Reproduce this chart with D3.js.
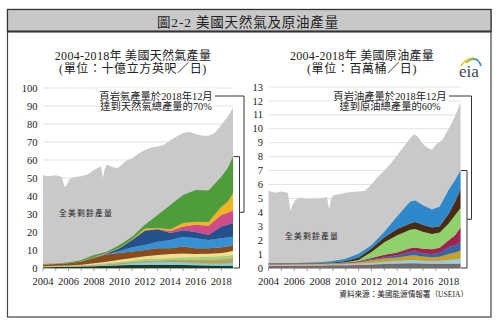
<!DOCTYPE html>
<html lang="zh-Hant">
<head>
<meta charset="utf-8">
<script src="https://d3js.org/d3.v7.min.js"></script>
<style>
  body { margin: 0; background: #fff; }
  text { font-family: 'Liberation Serif', 'Noto Sans CJK TC', serif; fill: #222; }
</style>
</head>
<body>
<svg width="500" height="326"></svg>
<script>
// ---- data ----
var xTicks = [2004, 2006, 2008, 2010, 2012, 2014, 2016, 2018];

// natural gas, Bcf/d
var gasTotalX = [2004, 2004.5, 2005, 2005.5, 2005.67, 2005.85, 2006.1, 2006.5, 2007, 2007.5, 2008, 2008.55, 2008.7, 2008.85, 2009, 2009.5, 2009.9, 2010.5, 2011, 2011.5, 2012, 2012.5, 2013, 2013.5, 2014, 2014.5, 2015, 2015.5, 2016, 2016.5, 2017, 2017.5, 2018, 2018.5, 2018.92];
var gasTotal  = [51.5, 51, 51.5, 50.5, 45, 46, 49.5, 50.5, 51, 52, 54.5, 56.5, 50, 55, 57.5, 56, 55.5, 59.5, 61, 63.5, 65.5, 67, 67.5, 68.5, 71, 73, 75, 75.5, 74.5, 73.5, 73.5, 75, 79.5, 84, 89];
var gasYears  = [2004, 2005, 2006, 2007, 2008, 2009, 2010, 2011, 2012, 2013, 2014, 2015, 2016, 2017, 2018, 2018.5, 2018.92];
// cumulative top of each shale play, bottom band first
var gasTops = [
  [0.4, 0.5, 0.6, 0.8, 1.0, 1.2, 1.5, 1.7, 1.8, 1.8, 1.8, 1.7, 1.5, 1.4, 1.3, 1.3, 1.3],
  [0.6, 0.7, 0.8, 1.0, 1.3, 1.6, 2.0, 2.6, 3.0, 3.2, 3.3, 3.0, 2.6, 2.4, 2.4, 2.5, 2.6],
  [0.8, 0.9, 1.0, 1.3, 1.7, 2.1, 2.6, 3.3, 3.9, 4.2, 4.4, 4.4, 4.4, 4.5, 4.8, 5.2, 5.7],
  [0.9, 1.0, 1.2, 1.5, 2.0, 2.6, 3.3, 4.2, 5.0, 5.2, 5.4, 5.8, 6.0, 6.2, 6.5, 6.8, 7.2],
  [1.0, 1.2, 1.4, 1.8, 2.6, 3.5, 4.6, 5.6, 6.5, 7.2, 7.8, 8.0, 7.8, 7.9, 8.3, 8.9, 9.6],
  [2.0, 2.2, 2.6, 3.6, 5.5, 7.5, 8.3, 9.2, 10.0, 11.0, 11.0, 11.9, 11.0, 11.0, 11.5, 12.0, 12.8],
  [2.0, 2.2, 2.6, 3.6, 5.6, 7.8, 9.5, 11.5, 12.8, 14.6, 15.6, 17.4, 16.5, 15.6, 16.5, 17.0, 17.4],
  [2.0, 2.2, 2.6, 3.6, 5.7, 8.2, 11.0, 15.6, 20.7, 21.5, 19.4, 21.0, 20.0, 18.3, 23.0, 24.0, 25.0],
  [2.0, 2.2, 2.6, 3.6, 5.7, 8.2, 11.0, 15.7, 21.0, 21.6, 20.5, 23.0, 24.0, 23.5, 29.4, 30.7, 32.0],
  [2.1, 2.3, 2.7, 3.8, 6.0, 8.5, 11.3, 16.0, 22.0, 22.2, 21.5, 25.0, 25.7, 25.5, 34.0, 36.8, 41.5],
  [2.2, 2.5, 3.0, 4.5, 7.2, 9.0, 12.8, 17.4, 24.0, 29.4, 35.0, 40.5, 43.3, 43.0, 50.7, 55.4, 61.9]
];
var gasColors = ["#1e3a1e", "#7dd0ea", "#b5a25e", "#a8d07c", "#eee08c", "#8c4b1d", "#3591d4", "#24518b", "#cf4c88", "#f2b320", "#4f9d3a"];

// crude oil, million b/d
var oilTotalX = [2004, 2004.5, 2005, 2005.5, 2005.7, 2005.85, 2006.1, 2006.5, 2007, 2007.5, 2008, 2008.55, 2008.7, 2008.85, 2009, 2009.5, 2010, 2010.5, 2011, 2011.5, 2012, 2012.5, 2013, 2013.5, 2014, 2014.5, 2015, 2015.3, 2015.6, 2016, 2016.4, 2016.7, 2017, 2017.5, 2018, 2018.5, 2018.92];
var oilTotal  = [5.55, 5.4, 5.5, 5.4, 4.1, 4.5, 4.9, 5.05, 4.95, 5.0, 5.0, 5.1, 4.2, 4.9, 5.2, 5.3, 5.4, 5.45, 5.5, 5.55, 6.0, 6.55, 7.0, 7.5, 8.1, 8.7, 9.3, 9.6, 9.45, 8.9, 8.6, 8.5, 8.85, 9.2, 10.0, 10.9, 11.9];
var oilYears  = [2004, 2006, 2008, 2009, 2010, 2011, 2012, 2013, 2014, 2015, 2015.4, 2016, 2016.7, 2017.3, 2018, 2018.5, 2018.92];
var oilTops = [
  [0.15, 0.16, 0.18, 0.19, 0.2, 0.22, 0.25, 0.28, 0.32, 0.34, 0.34, 0.32, 0.3, 0.3, 0.3, 0.31, 0.32],
  [0.2, 0.21, 0.23, 0.24, 0.26, 0.28, 0.31, 0.34, 0.38, 0.4, 0.4, 0.38, 0.36, 0.37, 0.38, 0.4, 0.42],
  [0.22, 0.23, 0.25, 0.26, 0.29, 0.33, 0.38, 0.45, 0.52, 0.58, 0.58, 0.52, 0.5, 0.52, 0.58, 0.62, 0.67],
  [0.26, 0.27, 0.29, 0.31, 0.35, 0.42, 0.55, 0.68, 0.76, 0.9, 0.92, 0.82, 0.78, 0.8, 1.0, 1.12, 1.26],
  [0.27, 0.28, 0.3, 0.32, 0.37, 0.46, 0.62, 0.78, 0.92, 1.15, 1.2, 1.05, 1.0, 1.1, 1.5, 1.65, 1.87],
  [0.28, 0.29, 0.31, 0.33, 0.39, 0.5, 0.72, 0.95, 1.12, 1.42, 1.48, 1.38, 1.35, 1.45, 2.0, 2.35, 2.9],
  [0.29, 0.30, 0.32, 0.35, 0.42, 0.58, 1.15, 1.85, 2.35, 2.75, 2.8, 2.6, 2.45, 2.55, 3.2, 3.8, 4.3],
  [0.33, 0.34, 0.36, 0.4, 0.5, 0.75, 1.4, 2.2, 2.8, 3.2, 3.3, 3.1, 2.9, 3.0, 3.9, 4.75, 5.65],
  [0.35, 0.36, 0.42, 0.5, 0.67, 1.03, 1.63, 2.6, 3.7, 4.75, 4.85, 4.5, 4.2, 4.4, 5.6, 6.3, 7.0]
];
var oilColors = ["#6e6e6e", "#f0a5b5", "#80d4ee", "#c8a024", "#3566a8", "#a3214f", "#8fd16a", "#4a2a14", "#2f88c9"];

var svg = d3.select("svg");

// outer frame + title band
svg.append("rect").attr("x", 7.5).attr("y", 9.5).attr("width", 483.5).attr("height", 307.5)
  .attr("fill", "#fff").attr("stroke", "#444").attr("stroke-width", 1.2);
svg.append("rect").attr("x", 7.5).attr("y", 9.5).attr("width", 483.5).attr("height", 22)
  .attr("fill", "#c8c8c8").attr("stroke", "#333").attr("stroke-width", 1.2);
svg.append("line").attr("x1", 7.5).attr("x2", 491).attr("y1", 31.5).attr("y2", 31.5)
  .attr("stroke", "#333").attr("stroke-width", 1.8);
svg.append("text").attr("x", 248).attr("y", 26.5).attr("text-anchor", "middle")
  .attr("font-size", "13.5px").attr("letter-spacing", "0.8px").text("圖2-2 美國天然氣及原油產量");

function drawChart(o) {
  var x = d3.scaleLinear().domain([2004, 2018.92]).range(o.xr);
  var y = d3.scaleLinear().domain([0, o.ymax]).range([268, o.ytop]);
  var g = svg.append("g");

  // gridlines + y labels
  var yt = d3.range(0, o.ymax + 1, o.ystep);
  g.selectAll(".grid").data(yt).enter().append("line")
    .attr("x1", o.xr[0]).attr("x2", o.xr[1])
    .attr("y1", function(d) { return y(d); }).attr("y2", function(d) { return y(d); })
    .attr("stroke", "#d9d9d9").attr("stroke-width", 0.8);
  g.selectAll(".yl").data(yt).enter().append("text")
    .attr("x", o.xr[0] - 5.5).attr("y", function(d) { return y(d) + 3.6; })
    .attr("text-anchor", "end").attr("font-size", "10.5px").text(function(d) { return d; });

  // total production (grey)
  var area = d3.area().x(function(d) { return x(d[0]); }).y0(y(0)).y1(function(d) { return y(d[1]); });
  g.append("path").datum(o.totalX.map(function(t, i) { return [t, o.total[i]]; }))
    .attr("fill", "#c9c9c9").attr("d", area);

  // shale plays, drawn between consecutive cumulative tops
  var band = d3.area().x(function(d) { return x(d[0]); })
    .y0(function(d) { return y(d[1]); }).y1(function(d) { return y(d[2]); });
  o.tops.forEach(function(top, k) {
    var below = k === 0 ? null : o.tops[k - 1];
    g.append("path")
      .datum(o.years.map(function(t, i) { return [t, below ? below[i] : 0, top[i]]; }))
      .attr("fill", o.colors[k]).attr("d", band);
  });

  // x axis
  g.append("line").attr("x1", o.xr[0]).attr("x2", o.xr[1]).attr("y1", y(0) + 0.5).attr("y2", y(0) + 0.5)
    .attr("stroke", "#999").attr("stroke-width", 0.8);
  g.selectAll(".xt").data(d3.range(2004, 2019)).enter().append("line")
    .attr("x1", function(d) { return x(d); }).attr("x2", function(d) { return x(d); })
    .attr("y1", y(0)).attr("y2", y(0) + 3).attr("stroke", "#777").attr("stroke-width", 0.7);
  g.selectAll(".xl").data(xTicks).enter().append("text")
    .attr("x", function(d) { return x(d); }).attr("y", 285)
    .attr("text-anchor", "middle").attr("font-size", "10.5px").text(function(d) { return d; });

  // titles
  g.append("text").attr("x", o.tx).attr("y", 60).attr("text-anchor", "middle")
    .attr("font-size", "12px").attr("letter-spacing", "0.3px").text(o.title1);
  g.append("text").attr("x", o.tx).attr("y", 72.5).attr("text-anchor", "middle")
    .attr("font-size", "12px").attr("letter-spacing", "0.6px").text(o.title2);

  // annotation
  g.append("rect").attr("x", o.ax - 58).attr("y", 88).attr("width", 116).attr("height", 24).attr("fill", "#fff");
  g.append("text").attr("x", o.ax).attr("y", 99.5).attr("text-anchor", "middle")
    .attr("font-size", "10.3px").text(o.note1);
  g.append("text").attr("x", o.ax).attr("y", 109.8).attr("text-anchor", "middle")
    .attr("font-size", "10.3px").text(o.note2);

  var end = o.years.length - 1;
  var bx = x(o.years[end]) + 6.5;
  var btop = y(o.tops[o.tops.length - 1][end]);
  var bmid = (btop + y(0)) / 2;
  g.append("path")
    .attr("d", "M" + (bx - 6) + "," + btop + "H" + bx + "V" + y(0) + "H" + (bx - 6))
    .attr("fill", "none").attr("stroke", "#333").attr("stroke-width", 1);
  g.append("path")
    .attr("d", "M" + (o.ax + 59) + ",96H" + (bx + 4.5) + "V" + bmid + "H" + bx)
    .attr("fill", "none").attr("stroke", "#333").attr("stroke-width", 1);

  g.append("text").attr("x", o.rx).attr("y", o.ry).attr("text-anchor", "middle")
    .attr("font-size", "7.8px").attr("letter-spacing", "1.2px").text("全美剩餘產量");
}

drawChart({
  xr: [43, 233], ymax: 100, ystep: 10, ytop: 88,
  totalX: gasTotalX, total: gasTotal, years: gasYears, tops: gasTops, colors: gasColors,
  tx: 133, title1: "2004-2018年 美國天然氣產量", title2: "(單位：十億立方英呎／日)",
  ax: 156, note1: "頁岩氣產量於2018年12月", note2: "達到天然氣總產量的70%",
  rx: 86, ry: 216
});
drawChart({
  xr: [268.5, 460.5], ymax: 13, ystep: 1, ytop: 87,
  totalX: oilTotalX, total: oilTotal, years: oilYears, tops: oilTops, colors: oilColors,
  tx: 362, title1: "2004-2018年 美國原油產量", title2: "(單位：百萬桶／日)",
  ax: 390, note1: "頁岩油產量於2018年12月", note2: "達到原油總產量的60%",
  rx: 312, ry: 239
});

// eia logo
var logo = svg.append("g");
logo.append("path").attr("d", "M461,66 Q466,58 474,58").attr("fill", "none").attr("stroke", "#f4c51c").attr("stroke-width", 1.6);
logo.append("path").attr("d", "M466,63 Q472,57 478,60").attr("fill", "none").attr("stroke", "#79b84a").attr("stroke-width", 1.6);
logo.append("path").attr("d", "M473,59 Q479,59 481,66").attr("fill", "none").attr("stroke", "#3b8fd2").attr("stroke-width", 1.6);
logo.append("text").attr("x", 469).attr("y", 77).attr("text-anchor", "middle")
  .attr("font-size", "17px").style("fill", "#3c4a5c").text("eia");

// source
svg.append("text").attr("x", 468).attr("y", 296.5).attr("text-anchor", "end")
  .attr("font-size", "7.6px").text("資料來源：美國能源情報署（USEIA）");
</script>
</body>
</html>
